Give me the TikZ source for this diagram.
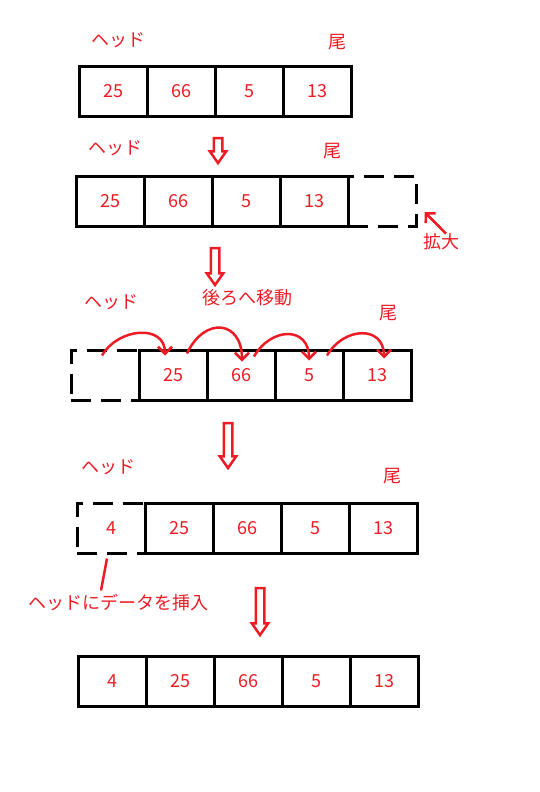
\documentclass[tikz,border=0pt]{standalone}
\usepackage{fontspec}
\setmainfont{Noto Sans CJK JP}
\usetikzlibrary{arrows.meta,positioning,shapes.arrows}
\definecolor{paintred}{RGB}{237,28,36}

\begin{document}
\begin{tikzpicture}[x=1pt,y=1pt,node distance=68pt,on grid,
  cell/.style={draw,line width=3pt,minimum width=68pt,minimum height=50pt,inner sep=0pt,text=paintred,font=\fontsize{18}{20}\selectfont},
  dcell/.style={cell,dash pattern=on 20pt off 10pt},
  lbl/.style={text=paintred,font=\fontsize{18}{20}\selectfont,inner sep=0pt},
  down/.style={single arrow,draw=paintred,line width=2.5pt,rotate=-90,inner sep=3pt,single arrow head extend=4pt,single arrow tip angle=70,minimum width=16pt},
  move/.style={->,paintred,line width=2.5pt},
  >={Straight Barb[length=7pt,width=14pt]}]
\useasboundingbox (0,0) rectangle (539,-792);
  % the array
  \node[cell]          (a1) at (113,-91.5)       {25};
  \node[cell]          (a2) [right =of a1]        {66};
  \node[cell]          (a3) [right =of a2]        {5};
  \node[cell]          (a4) [right =of a3]        {13};
  \node[lbl]           (h1) at (118,-40)         {ヘッド};
  \node[lbl]           (t1) at (337,-42)         {尾};
  \node[down,minimum height=25pt] (ar1) at (218,-147.5) {};
  % grow at the end
  \node[cell]          (b1) at (110,-201)        {25};
  \node[cell]          (b2) [right =of b1]        {66};
  \node[cell]          (b3) [right =of b2]        {5};
  \node[cell]          (b4) [right =of b3]        {13};
  \node[dcell]         (b5) [right =of b4]        {};
  \node[lbl]           (h2) at (115,-148)        {ヘッド};
  \node[lbl]           (t2) at (332,-151)        {尾};
  \node[lbl]           (grow) at (441,-242)      {拡大};
  \draw[move] ([xshift=5pt]grow.north) -- ([shift={(7,-11)}]b5.east);
  \node[down,minimum height=37pt] (ar2) at (215,-263.5) {};
  % shift back
  \node[dcell]         (c0) at (105,-375)        {};
  \node[cell]          (c1) [right =of c0]        {25};
  \node[cell]          (c2) [right =of c1]        {66};
  \node[cell]          (c3) [right =of c2]        {5};
  \node[cell]          (c4) [right =of c3]        {13};
  \node[lbl]           (h3) at (111,-302)        {ヘッド};
  \node[lbl]           (mv) at (247,-298)        {後ろへ移動};
  \node[lbl]           (t3) at (388,-313)        {尾};
\path
      ([shift={(-3,-7)}]c0.north)  edge [move,out=60,in=90,looseness=1.3] ([shift={(-8,-7)}]c1.north)
      ([shift={(14,-5)}]c1.north)  edge [move,out=65,in=90,looseness=1.9] ([shift={(1,-13)}]c2.north)
      ([shift={(13,-8)}]c2.north)  edge [move,out=60,in=90,looseness=1.6] ([shift={(0,-12)}]c3.north)
      ([shift={(18,-7)}]c3.north)  edge [move,out=60,in=90,looseness=1.5] ([shift={(7,-10)}]c4.north);
  \node[down,minimum height=45pt] (ar3) at (228,-442.5) {};
  % new head
  \node[dcell]         (d0) at (111,-528)        {4};
  \node[cell]          (d1) [right =of d0]        {25};
  \node[cell]          (d2) [right =of d1]        {66};
  \node[cell]          (d3) [right =of d2]        {5};
  \node[cell]          (d4) [right =of d3]        {13};
  \node[lbl]           (h4) at (108,-467)        {ヘッド};
  \node[lbl]           (t4) at (392,-476)        {尾};
  \node[lbl]           (ins) at (118,-603)       {ヘッドにデータを挿入};
  \draw[paintred,line width=2.5pt] ([shift={(-4,-4)}]d0.south) -- ([shift={(-17,4)}]ins.north);
  \node[down,minimum height=47pt] (ar4) at (260,-608.5) {};
  % result
  \node[cell]          (e1) at (112,-681)        {4};
  \node[cell]          (e2) [right =of e1]        {25};
  \node[cell]          (e3) [right =of e2]        {66};
  \node[cell]          (e4) [right =of e3]        {5};
  \node[cell]          (e5) [right =of e4]        {13};
\end{tikzpicture}
\end{document}
